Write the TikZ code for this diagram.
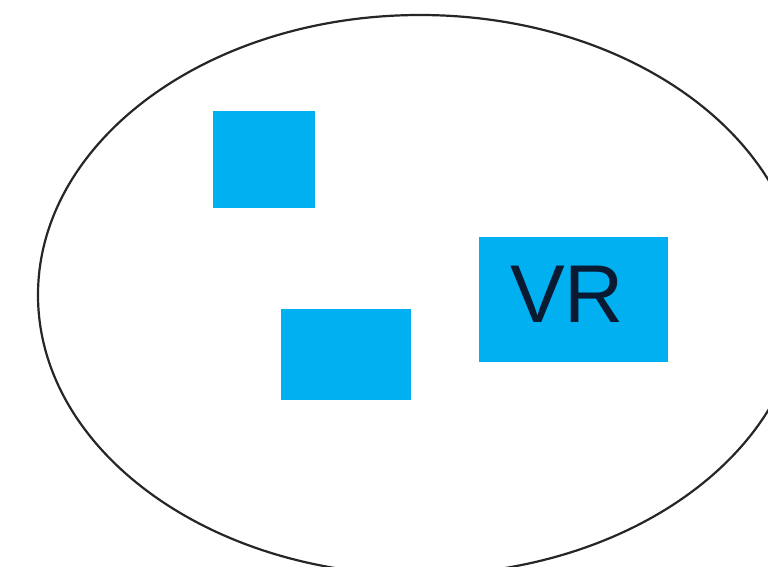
\documentclass[tikz,border=0pt]{standalone}
\usepackage{fontspec}
\setmainfont{Liberation Sans}
\definecolor{boxblue}{HTML}{00B0F0}
\definecolor{vrtext}{HTML}{0B1A33}
\begin{document}
\begin{tikzpicture}[x=1pt,y=-1pt,
  bluebox/.style={fill=boxblue,draw=none,inner sep=0pt,outer sep=0pt}]
\useasboundingbox (0,0) rectangle (768,566);
\clip (0,0) rectangle (768,566);
\fill[white] (0,0) rectangle (768,566);
\draw[line width=2.2pt,black!85] (420,295) ellipse [x radius=382, y radius=280];
\node[bluebox,minimum width=102pt,minimum height=97pt] (b1) at (264,159.5) {};
\node[bluebox,minimum width=130pt,minimum height=91pt] (b2) at (346,354.5) {};
\node[bluebox,minimum width=189pt,minimum height=125pt] (vr) at (573.5,299.5) {};
\node[inner sep=0pt,text=vrtext,font=\fontsize{82}{84}\selectfont] (vrlabel) at (567,294) {VR};
\end{tikzpicture}
\end{document}
